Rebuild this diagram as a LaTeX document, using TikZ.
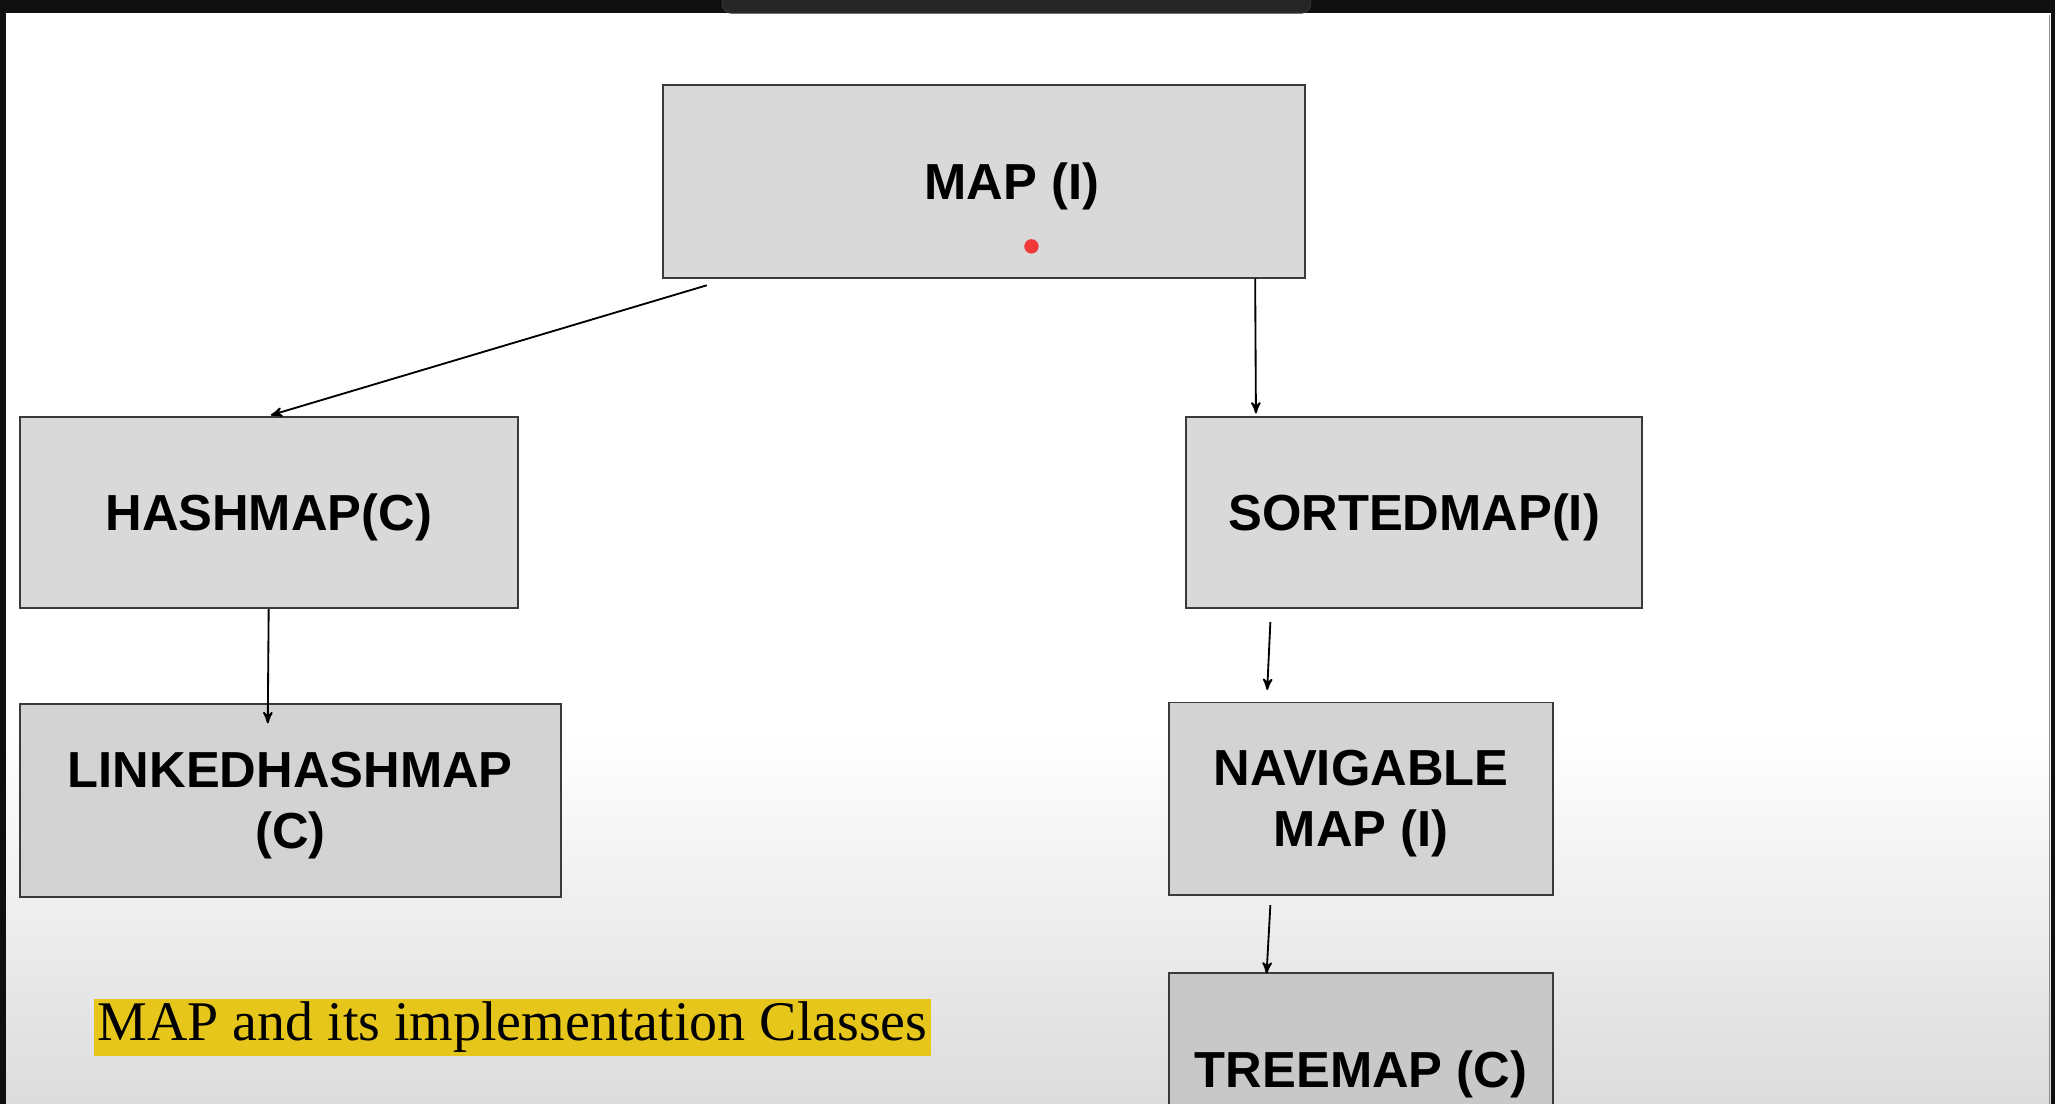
\documentclass[tikz,border=0pt]{standalone}
\usepackage{fontspec}
\setmainfont{Liberation Serif}
\newfontfamily\boxfont{Liberation Sans}
\usepackage{tikz}
\usetikzlibrary{arrows,positioning}

\definecolor{boxgray}{HTML}{D9D9D9}
\definecolor{boxgraylow}{HTML}{D3D3D3}
\definecolor{boxgraydark}{HTML}{C8C8C8}
\definecolor{boxline}{HTML}{3A3A3A}
\definecolor{bggray}{HTML}{DCDCDC}
\definecolor{barblack}{HTML}{0F0F0F}
\definecolor{capyellow}{HTML}{E6C61A}
\definecolor{laser}{HTML}{F03A3A}

\begin{document}
\begin{tikzpicture}[->,>=stealth',shorten >=1pt,thick]
  \tikzstyle{classbox}=[rectangle,draw=boxline,line width=0.8pt,fill=boxgray,text=black,align=center,inner sep=0pt,text depth=0pt,font=\boxfont\bfseries\fontsize{22}{26.5}\selectfont]

  % frame of the slide
  \useasboundingbox (0,0) rectangle (31.36,16.84);
  \clip (0,0) rectangle (31.36,16.84);
  \fill[-,white] (0,0) rectangle (31.36,16.84);
  \shade[-,top color=white,bottom color=bggray] (0,0) rectangle (31.36,5.64);
  \fill[-,barblack] (0,16.64) rectangle (31.36,16.84);
  \draw[-,draw=black!80,fill=black!85,rounded corners=4pt,line width=0.5pt] (11.02,17.2) rectangle (20.0,16.64);
  \fill[-,barblack] (0,0) rectangle (0.09,16.84);
  \fill[-,barblack] (31.30,0) rectangle (31.36,16.84);
  \draw[-,black!45,line width=0.4pt] (31.28,0) -- (31.28,16.64);

  \node[classbox,minimum width=9.8cm,minimum height=2.94cm] (map) at (15.02,14.07) {\hspace*{0.84cm}MAP (I)};
  \node[classbox,minimum width=7.6cm,minimum height=2.92cm] (hash) at (4.10,9.02) {HASHMAP(C)};
  \node[classbox,minimum width=6.96cm,minimum height=2.92cm] (sorted) at (21.58,9.02) {SORTEDMAP(I)};
  \node[classbox,fill=boxgraylow,minimum width=8.26cm,minimum height=2.94cm] (linked) [below=1.44cm of hash.south west,anchor=north west] {LINKEDHASHMAP\\(C)};
  \node[classbox,fill=boxgraylow,minimum width=5.86cm,minimum height=2.94cm] (nav) at (20.77,4.65) {NAVIGABLE\\MAP (I)};
  \node[classbox,fill=boxgraydark,minimum width=5.86cm,minimum height=2.94cm] (tree) [below=1.16cm of nav] {TREEMAP (C)};

  \node[fill=capyellow,inner sep=0pt,minimum width=12.76cm,minimum height=0.88cm,font=\fontsize{24.3}{28}\selectfont] (caption) at (7.82,1.16) {MAP and its implementation Classes};

  \fill[-,laser] ([xshift=0.72cm,yshift=-0.99cm]map.center) circle (0.11);

  \path ([xshift=0.68cm,yshift=-0.1cm]map.south west) edge (hash.north)
	([xshift=-0.78cm]map.south east) edge ([xshift=1.08cm]sorted.north west)
	(hash.south) edge ([xshift=3.8cm,yshift=-0.34cm]linked.north west)
	([xshift=1.3cm,yshift=-0.2cm]sorted.south west) edge ([xshift=1.51cm,yshift=0.14cm]nav.north west)
	([xshift=1.56cm,yshift=-0.14cm]nav.south west) edge ([xshift=1.5cm,yshift=-0.06cm]tree.north west);
\end{tikzpicture}
\end{document}
